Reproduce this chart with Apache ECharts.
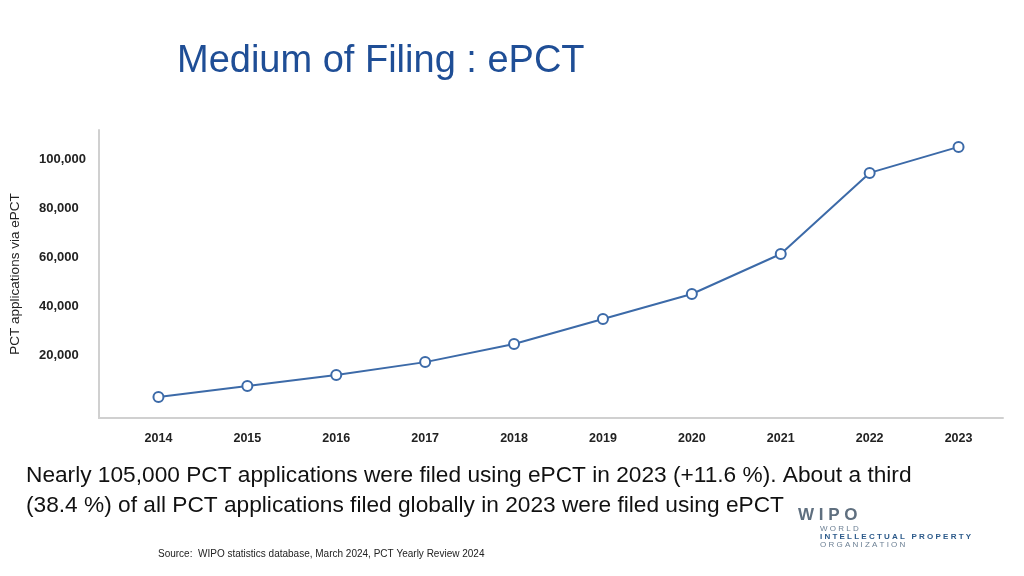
<!DOCTYPE html>
<html><head><meta charset="utf-8">
<script src="https://cdn.jsdelivr.net/npm/echarts@6/dist/echarts.min.js"></script>
<style>html,body{margin:0;background:#fff}#c{width:1024px;height:576px}</style>
</head><body><div id="c"></div>
<script>
// ePCT filings per year
var years = ['2014','2015','2016','2017','2018','2019','2020','2021','2022','2023'];
var epct = [2900, 7400, 11800, 17100, 24500, 34700, 44900, 61200, 94300, 104900];
var yTicks = [20000, 40000, 60000, 80000, 100000];

var chart = echarts.init(document.getElementById('c'));
var font = 'Liberation Sans, Arial, sans-serif';
chart.setOption({
    backgroundColor: '#fff',
    animation: false,
    grid: {left: 113, right: 21, top: 130, bottom: 158},
    xAxis: {
        type: 'category', data: years, boundaryGap: true,
        axisLine: {onZero: false, lineStyle: {color: '#d0d0d0', width: 2}},
        axisTick: {show: false},
        axisLabel: {color: '#222', fontSize: 12.5, fontWeight: 'bold', margin: 14, fontFamily: font}
    },
    yAxis: {
        type: 'value', min: -5700, max: 111800, offset: 15,
        name: 'PCT applications via ePCT', nameLocation: 'middle', nameGap: 77,
        nameTextStyle: {color: '#222', fontSize: 13.5, fontFamily: font},
        axisLine: {show: true, lineStyle: {color: '#d0d0d0', width: 2}},
        axisTick: {show: false},
        splitLine: {show: false},
        axisLabel: {
            color: '#222', fontSize: 13, fontWeight: 'bold', margin: 60, align: 'left', fontFamily: font,
            customValues: yTicks,
            formatter: function (v) { return v.toLocaleString('en-US'); }
        }
    },
    series: [{
        type: 'line', data: epct,
        lineStyle: {color: '#3c6aa8', width: 2},
        itemStyle: {color: '#fff', borderColor: '#3c6aa8', borderWidth: 2},
        symbol: 'circle', symbolSize: 10
    }],
    graphic: [
        {type: 'line', shape: {x1: 98, y1: 418, x2: 114, y2: 418}, style: {stroke: '#d0d0d0', lineWidth: 2}},
        {type: 'text', left: 177, top: 43, style: {text: 'Medium of Filing : ePCT', fill: '#1f4e96', font: '38px ' + font}},
        {type: 'text', left: 26, top: 461, style: {text: 'Nearly 105,000 PCT applications were filed using ePCT in 2023 (+11.6 %). About a third\n(38.4 %) of all PCT applications filed globally in 2023 were filed using ePCT', fill: '#111', font: '22.7px ' + font, lineHeight: 30}},
        {type: 'text', left: 158, top: 549, style: {text: 'Source:  WIPO statistics database, March 2024, PCT Yearly Review 2024', fill: '#222', font: '10px ' + font}},
        {type: 'text', left: 798, top: 507, style: {text: 'W I P O', fill: '#5f6f7f', font: 'bold 17px ' + font}},
        {type: 'text', left: 820, top: 525, style: {text: 'W O R L D', fill: '#6b7f93', font: '8px ' + font}},
        {type: 'text', left: 820, top: 533, style: {text: 'I N T E L L E C T U A L   P R O P E R T Y', fill: '#2c5a8a', font: 'bold 8px ' + font}},
        {type: 'text', left: 820, top: 541, style: {text: 'O R G A N I Z A T I O N', fill: '#6b7f93', font: '8px ' + font}}
    ]
});
</script></body></html>
